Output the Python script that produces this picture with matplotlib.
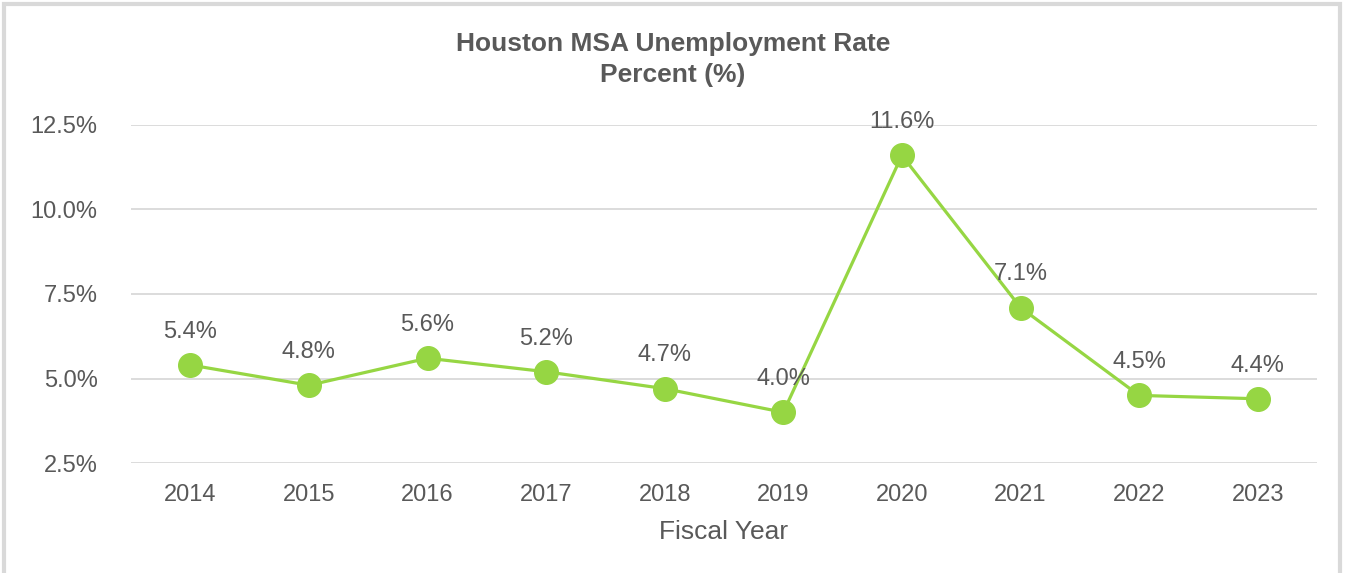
import matplotlib.pyplot as plt
from matplotlib.patches import Rectangle
from matplotlib.ticker import FuncFormatter

plt.rcParams['font.family'] = ['Liberation Sans', 'DejaVu Sans']

years = ['2014', '2015', '2016', '2017', '2018', '2019', '2020', '2021', '2022', '2023']
rate = [5.4, 4.8, 5.6, 5.2, 4.7, 4.0, 11.6, 7.1, 4.5, 4.4]
yticks = [2.5, 5.0, 7.5, 10.0, 12.5]

green = '#96D643'
grey_text = '#595959'

fig = plt.figure(figsize=(13.46, 5.73), dpi=100)
ax = fig.add_axes([131 / 1346, 110 / 573, 1186 / 1346, 338 / 573])

x = list(range(len(years)))
ax.plot(x, rate, color=green, linewidth=2.3, marker='o', markersize=17,
        clip_on=False, zorder=3)

# value labels above each point
for xi, v in zip(x, rate):
    ax.annotate(f'{v:.1f}%', (xi, v), xytext=(0, 16), textcoords='offset points',
                ha='center', va='bottom', fontsize=17, color=grey_text)

ax.set_xlim(-0.5, len(years) - 0.5)
ax.set_ylim(2.5, 12.5)
ax.set_yticks(yticks)
ax.yaxis.set_major_formatter(FuncFormatter(lambda v, p: f'{v:.1f}%'))
ax.set_xticks(x)
ax.set_xticklabels(years)
ax.grid(axis='y', color='#d9d9d9', linewidth=1.3)
ax.set_axisbelow(True)
for s in ax.spines.values():
    s.set_visible(False)
ax.tick_params(length=0, labelsize=17, labelcolor=grey_text)
ax.tick_params(axis='x', pad=15)
ax.tick_params(axis='y', pad=24)

ax.set_xlabel('Fiscal Year', fontsize=19, color=grey_text, labelpad=10)

fig.text(0.5, 1 - 44 / 573, 'Houston MSA Unemployment Rate', ha='center', va='center',
         fontsize=19, fontweight='bold', color=grey_text)
fig.text(0.5, 1 - 75 / 573, 'Percent (%)', ha='center', va='center',
         fontsize=19, fontweight='bold', color=grey_text)

# light frame round the chart
fig.patches.append(Rectangle((4 / 1346, -0.02), 1336 / 1346, 1 - 4 / 573 + 0.02,
                             transform=fig.transFigure, fill=False,
                             edgecolor='#d9d9d9', linewidth=3))

fig.savefig('out.png', dpi=100)
